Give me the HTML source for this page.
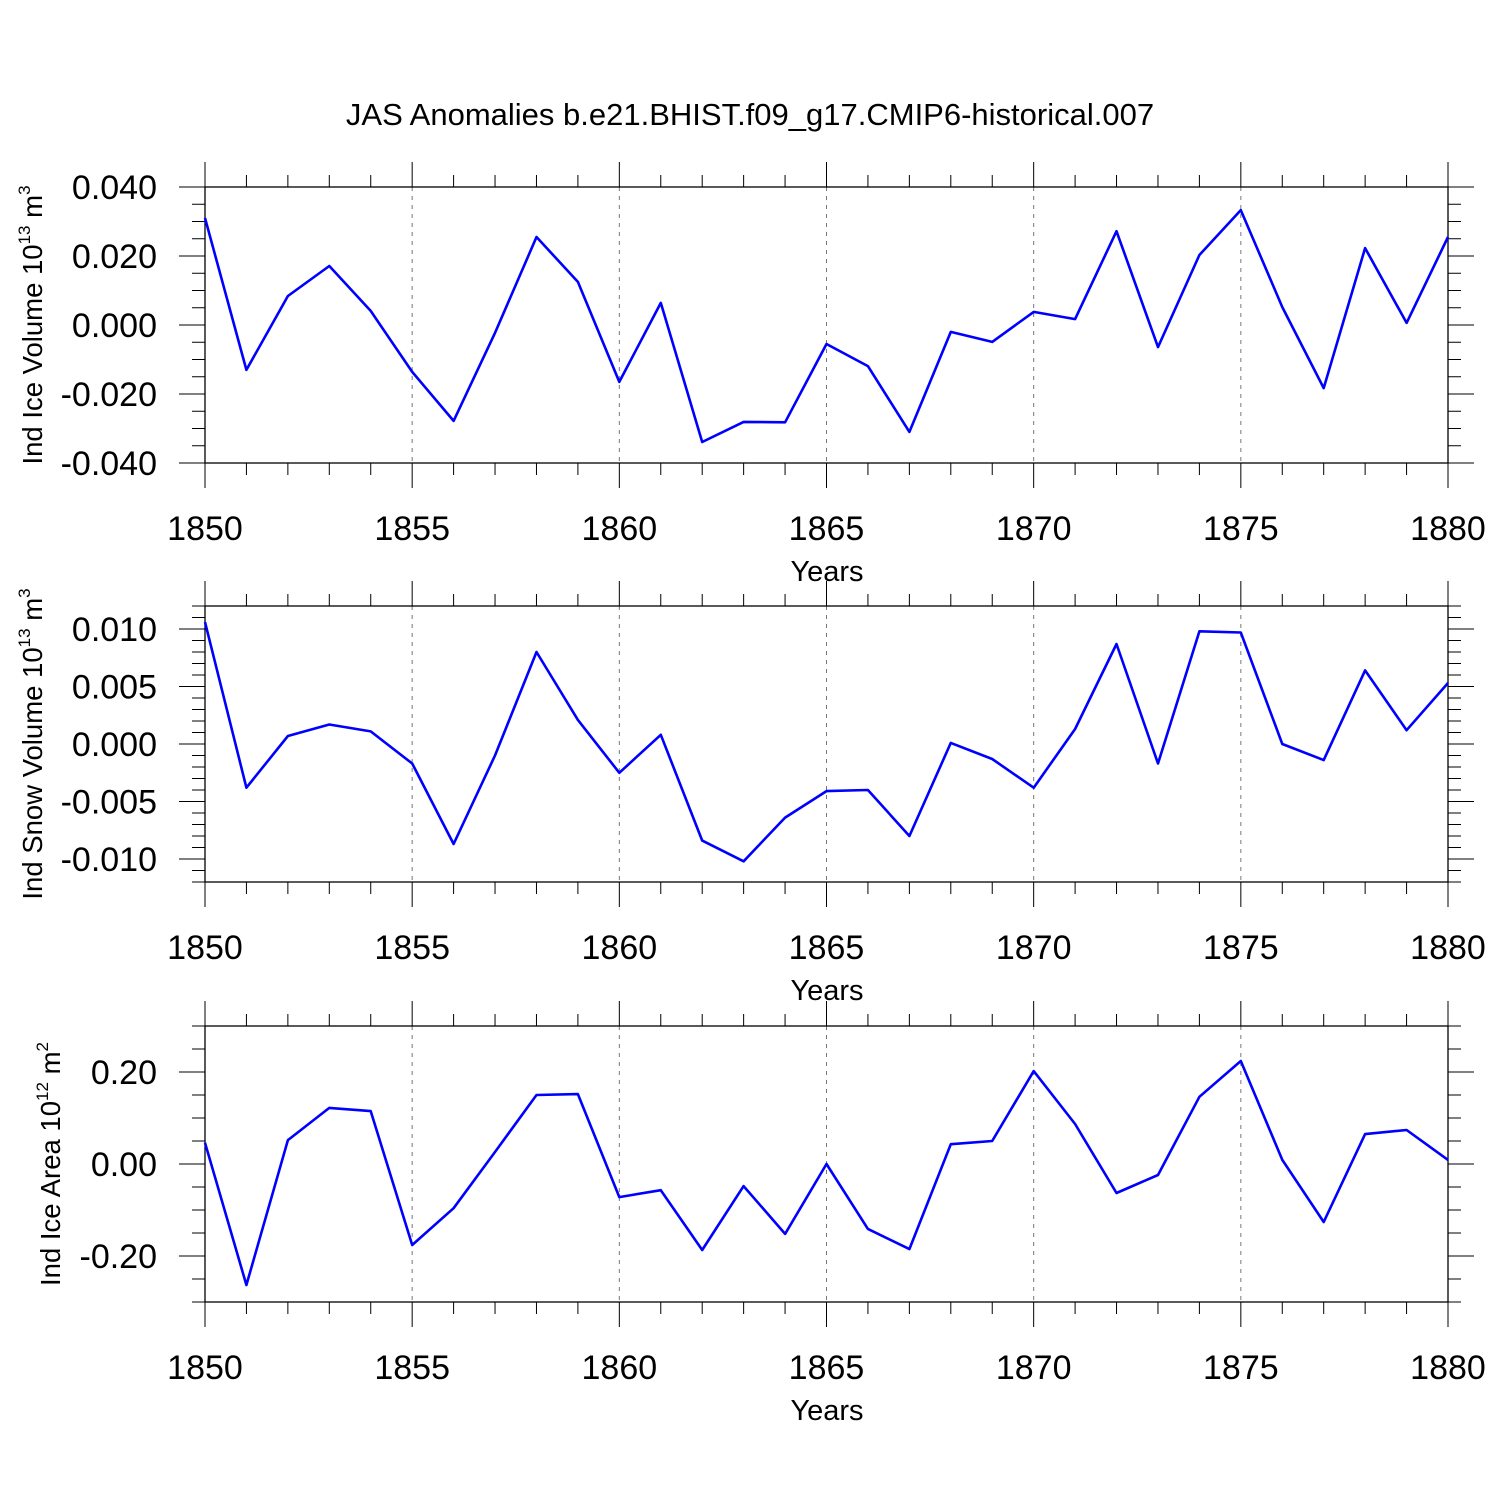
<!DOCTYPE html>
<html><head><meta charset="utf-8"><style>
html,body{margin:0;padding:0;background:#fff;}
svg{display:block;font-family:"Liberation Sans",sans-serif;}
</style></head><body>
<svg id="chart" width="1500" height="1500" viewBox="0 0 1500 1500" xmlns="http://www.w3.org/2000/svg">
<text x="750" y="125" font-size="31" text-anchor="middle">JAS Anomalies b.e21.BHIST.f09_g17.CMIP6-historical.007</text>
</svg>
<script>
const years = [1850,1851,1852,1853,1854,1855,1856,1857,1858,1859,1860,1861,1862,1863,1864,1865,1866,1867,1868,1869,1870,1871,1872,1873,1874,1875,1876,1877,1878,1879,1880];
const iceVolume = [0.031,-0.013,0.0084,0.0171,0.0041,-0.0136,-0.0278,-0.0023,0.0255,0.0125,-0.0165,0.0064,-0.0339,-0.0281,-0.0282,-0.0055,-0.0119,-0.031,-0.002,-0.0049,0.0038,0.0017,0.0272,-0.0064,0.0203,0.0333,0.0052,-0.0183,0.0223,0.0006,0.0255];
const snowVolume = [0.0106,-0.0038,0.0007,0.0017,0.0011,-0.0017,-0.0087,-0.001,0.008,0.0021,-0.0025,0.0008,-0.0084,-0.0102,-0.0064,-0.0041,-0.004,-0.008,0.0001,-0.0013,-0.0038,0.0013,0.0087,-0.0017,0.0098,0.0097,0.0,-0.0014,0.0064,0.0012,0.0053];
const iceArea = [0.046,-0.263,0.052,0.122,0.115,-0.176,-0.096,0.026,0.15,0.152,-0.072,-0.057,-0.187,-0.048,-0.152,0,-0.141,-0.185,0.043,0.05,0.202,0.087,-0.063,-0.024,0.146,0.224,0.009,-0.126,0.065,0.074,0.009];
const xTickLabels = ["1850","1855","1860","1865","1870","1875","1880"];
const iceVolTicks = [-0.04,-0.02,0,0.02,0.04];
const iceVolTickLabels = ["-0.040","-0.020","0.000","0.020","0.040"];
const snowTicks = [-0.01,-0.005,0,0.005,0.01];
const snowTickLabels = ["-0.010","-0.005","0.000","0.005","0.010"];
const areaTicks = [-0.2,0,0.2];
const areaTickLabels = ["-0.20","0.00","0.20"];

const NS="http://www.w3.org/2000/svg";
const svg=document.getElementById('chart');
function mk(tag,attrs,parent){const e=document.createElementNS(NS,tag);for(const k in attrs)e.setAttribute(k,attrs[k]);(parent||svg).appendChild(e);return e;}

const X0=205,X1=1448;
function xScale(yr){return X0+(yr-1850)/(1880-1850)*(X1-X0);}

function panel(name,top,bottom,ymin,ymax,minorStep,ticks,tickLabels,values,ytitleParts,ytitleX,ytitleY){
  const g=mk('g',{});
  
  
  const ys=v=>bottom-(v-ymin)/(ymax-ymin)*(bottom-top);
  for(let yr=1855;yr<1880;yr+=5){
    const l=mk('line',{x1:xScale(yr),x2:xScale(yr),y1:top,y2:bottom,stroke:'#777','stroke-width':1,'stroke-dasharray':'4,5'},g);
    
    
  }
  const box=mk('rect',{x:X0,y:top,width:X1-X0,height:bottom-top,fill:'none',stroke:'#000','stroke-width':1.3},g);
  
  
  for(let yr=1850;yr<=1880;yr++){
    const major=(yr%5===0);const len=major?25:12;const x=xScale(yr);
    mk('line',{x1:x,x2:x,y1:top-len,y2:top,stroke:'#000','stroke-width':1},g);
    mk('line',{x1:x,x2:x,y1:bottom,y2:bottom+len,stroke:'#000','stroke-width':1},g);
  }
  xTickLabels.forEach(t=>{
    const tx=mk('text',{x:xScale(+t),y:bottom+77,'font-size':34,'text-anchor':'middle'},g);
    tx.textContent=t;
    
    
  });
  const xt=mk('text',{x:827,y:bottom+118,'font-size':29,'text-anchor':'middle'},g);
  xt.textContent='Years';
  
  
  const n=Math.round((ymax-ymin)/minorStep);
  for(let i=0;i<=n;i++){
    const v=ymin+i*minorStep;const y=ys(v);
    const isMajor=ticks.some(t=>Math.abs(t-v)<minorStep/10);
    const len=isMajor?26:13;
    mk('line',{x1:X0-len,x2:X0,y1:y,y2:y,stroke:'#000','stroke-width':1},g);
    mk('line',{x1:X1,x2:X1+len,y1:y,y2:y,stroke:'#000','stroke-width':1},g);
  }
  ticks.forEach((t,i)=>{
    const y=ys(t);
    mk('line',{x1:X0-26,x2:X0,y1:y,y2:y,stroke:'#000','stroke-width':1},g);
    mk('line',{x1:X1,x2:X1+26,y1:y,y2:y,stroke:'#000','stroke-width':1},g);
    const tx=mk('text',{x:157,y:y+12,'font-size':34,'text-anchor':'end'},g);
    tx.textContent=tickLabels[i];
    
    
  });
  const yt=mk('text',{transform:`translate(${ytitleX},${ytitleY}) rotate(-90)`,'font-size':27.5,'text-anchor':'middle'},g);
  
  
  const s1=mk('tspan',{},yt);s1.textContent=ytitleParts[0];
  const s2=mk('tspan',{'font-size':17,dy:-12},yt);s2.textContent=ytitleParts[1];
  const s3=mk('tspan',{dy:12},yt);s3.textContent=' m';
  const s4=mk('tspan',{'font-size':17,dy:-12},yt);s4.textContent=ytitleParts[2];
  const pts=values.map((v,i)=>xScale(years[i]).toFixed(1)+','+ys(v).toFixed(1)).join(' ');
  const pl=mk('polyline',{points:pts,fill:'none',stroke:'#0000ff','stroke-width':2.6,'stroke-linejoin':'round'},g);
  
  
}
panel('ice-volume',187,463,-0.04,0.04,0.005,iceVolTicks,iceVolTickLabels,iceVolume,['Ind Ice Volume 10','13','3'],42,325);
panel('snow-volume',606,882,-0.012,0.012,0.001,snowTicks,snowTickLabels,snowVolume,['Ind Snow Volume 10','13','3'],42,744);
panel('ice-area',1026,1302,-0.3,0.3,0.05,areaTicks,areaTickLabels,iceArea,['Ind Ice Area 10','12','2'],60,1164);
</script>
</body></html>
